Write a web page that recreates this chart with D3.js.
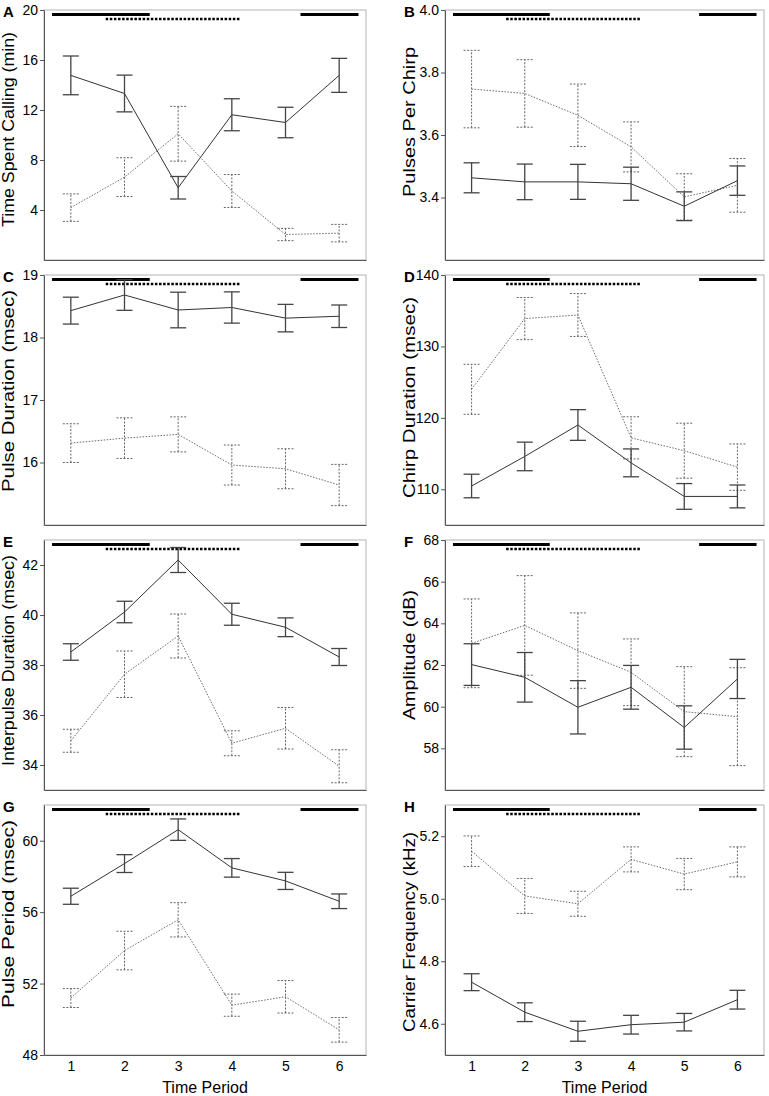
<!DOCTYPE html>
<html><head><meta charset="utf-8">
<script src="https://cdn.jsdelivr.net/npm/d3@7"></script>
<style>body{margin:0;background:#fff}svg{display:block}text{font-family:Arial,"Liberation Sans",sans-serif}</style>
</head><body>
<script>
const periods = [1, 2, 3, 4, 5, 6];
const xTickLabels = ["1", "2", "3", "4", "5", "6"];

// Treatment period bars (in time-period units)
const solidBars = [[0.65, 2.47], [5.28, 6.36]];
const dottedBars = [[1.65, 4.17]];

const panelLetters = ["A", "B", "C", "D", "E", "F", "G", "H"];
const yTitles = ["Time Spent Calling (min)", "Pulses Per Chirp", "Pulse Duration (msec)", "Chirp Duration (msec)",
  "Interpulse Duration (msec)", "Amplitude (dB)", "Pulse Period (msec)", "Carrier Frequency (kHz)"];
const yDomains = [[0, 20], [3.2, 4.0], [15, 19], [105, 140], [33, 43], [56, 68], [48, 62], [4.5, 5.3]];
const yTickValues = [[4, 8, 12, 16, 20], [3.4, 3.6, 3.8, 4.0], [16, 17, 18, 19], [110, 120, 130, 140],
  [34, 36, 38, 40, 42], [58, 60, 62, 64, 66, 68], [48, 52, 56, 60], [4.6, 4.8, 5.0, 5.2]];
const yTickFormats = ["d", ".1f", "d", "d", "d", "d", "d", ".1f"];

// A: Time Spent Calling
const aSolidMean = [14.77, 13.32, 5.78, 11.62, 11.0, 14.77];
const aSolidSE = [1.55, 1.47, 0.9, 1.28, 1.22, 1.36];
const aDottedMean = [4.19, 6.63, 10.1, 5.52, 2.04, 2.15];
const aDottedSE = [1.1, 1.55, 2.19, 1.32, 0.49, 0.7];
// B: Pulses Per Chirp
const bSolidMean = [3.463, 3.450, 3.450, 3.444, 3.372, 3.454];
const bSolidSE = [0.048, 0.057, 0.056, 0.053, 0.046, 0.047];
const bDottedMean = [3.747, 3.733, 3.663, 3.562, 3.402, 3.439];
const bDottedSE = [0.124, 0.108, 0.1, 0.08, 0.074, 0.086];
// C: Pulse Duration
const cSolidMean = [18.43, 18.68, 18.44, 18.48, 18.31, 18.34];
const cSolidSE = [0.215, 0.245, 0.285, 0.25, 0.22, 0.18];
const cDottedMean = [16.31, 16.39, 16.45, 15.96, 15.90, 15.64];
const cDottedSE = [0.31, 0.325, 0.28, 0.32, 0.32, 0.33];
// D: Chirp Duration
const dSolidMean = [110.46, 114.6, 119.0, 113.7, 109.0, 109.0];
const dSolidSE = [1.65, 2.0, 2.15, 1.95, 1.8, 1.6];
const dDottedMean = [124.0, 133.9, 134.4, 117.2, 115.4, 113.1];
const dDottedSE = [3.5, 2.95, 3.0, 2.95, 3.85, 3.25];
// E: Interpulse Duration
const eSolidMean = [38.52, 40.12, 42.2, 40.03, 39.51, 38.32];
const eSolidSE = [0.33, 0.43, 0.5, 0.44, 0.375, 0.34];
const eDottedMean = [34.97, 37.63, 39.16, 34.87, 35.47, 33.95];
const eDottedSE = [0.46, 0.93, 0.88, 0.5, 0.83, 0.66];
// F: Amplitude
const fSolidMean = [62.02, 61.41, 59.97, 60.93, 59.0, 61.33];
const fSolidSE = [1.0, 1.19, 1.28, 1.05, 1.04, 0.94];
const fDottedMean = [63.04, 63.9, 62.69, 61.65, 59.76, 59.52];
const fDottedSE = [2.13, 2.39, 1.81, 1.6, 2.16, 2.35];
// G: Pulse Period
const gSolidMean = [56.89, 58.72, 60.62, 58.48, 57.75, 56.61];
const gSolidSE = [0.45, 0.5, 0.6, 0.52, 0.48, 0.41];
const gDottedMean = [51.19, 53.85, 55.57, 50.79, 51.26, 49.41];
const gDottedSE = [0.53, 1.08, 0.96, 0.62, 0.91, 0.69];
// H: Carrier Frequency
const hSolidMean = [4.733, 4.637, 4.576, 4.597, 4.605, 4.677];
const hSolidSE = [0.027, 0.030, 0.032, 0.030, 0.028, 0.030];
const hDottedMean = [5.152, 5.009, 4.984, 5.126, 5.079, 5.118];
const hDottedSE = [0.049, 0.056, 0.040, 0.040, 0.050, 0.048];

const solidMeans = [aSolidMean, bSolidMean, cSolidMean, dSolidMean, eSolidMean, fSolidMean, gSolidMean, hSolidMean];
const solidSEs = [aSolidSE, bSolidSE, cSolidSE, dSolidSE, eSolidSE, fSolidSE, gSolidSE, hSolidSE];
const dottedMeans = [aDottedMean, bDottedMean, cDottedMean, dDottedMean, eDottedMean, fDottedMean, gDottedMean, hDottedMean];
const dottedSEs = [aDottedSE, bDottedSE, cDottedSE, dDottedSE, eDottedSE, fDottedSE, gDottedSE, hDottedSE];

// ---- layout / style (not data) ----
const W = 769, H = 1096;
const cols = [{x0: 44, x1: 366}, {x0: 445, x1: 764}];
const rowTop = 10, rowPitch = 265, plotH = 250;
const capW = 8;
// vertical extent [top, bottom] in px of each (stretched) y-axis title
const titleSpans = [[32, 227], [47, 197], [290, 492], [297, 498], [555, 766], [590, 720], [820, 1008], [832, 1032]];

const svg = d3.select("body").append("svg").attr("width", W).attr("height", H);

panelLetters.forEach((letter, i) => {
  const col = cols[i % 2];
  const row = Math.floor(i / 2);
  const top = rowTop + row * rowPitch;
  const bottom = top + plotH;
  const x = d3.scaleLinear().domain([0.5, 6.5]).range([col.x0, col.x1]);
  const y = d3.scaleLinear().domain(yDomains[i]).range([bottom, top]);
  const g = svg.append("g");

  // frame
  g.append("rect").attr("x", col.x0).attr("y", top).attr("width", col.x1 - col.x0).attr("height", plotH)
    .attr("fill", "none").attr("stroke", "#b4b4b4").attr("stroke-width", 1);

  // y axis
  const yAxis = d3.axisLeft(y).tickValues(yTickValues[i]).tickFormat(d3.format(yTickFormats[i]))
    .tickSizeInner(4).tickSizeOuter(0).tickPadding(2);
  const ya = g.append("g").attr("transform", `translate(${col.x0},0)`).call(yAxis);
  ya.select(".domain").attr("stroke", "#555");
  ya.selectAll(".tick line").attr("stroke", "#555");
  ya.selectAll(".tick text").attr("font-size", 14).attr("fill", "#000")
    .style("font-family", "Arial, 'Liberation Sans', sans-serif");

  // x axis
  const xAxis = d3.axisBottom(x).tickValues(periods).tickFormat((d, k) => (row === 3 ? xTickLabels[k] : ""))
    .tickSize(0).tickSizeOuter(0).tickPadding(6);
  const xa = g.append("g").attr("transform", `translate(0,${bottom})`).call(xAxis);
  xa.select(".domain").attr("stroke", "#555");
  xa.selectAll(".tick text").attr("font-size", 14).attr("fill", "#000")
    .style("font-family", "Arial, 'Liberation Sans', sans-serif");

  // letter
  g.append("text").attr("x", col.x0 - 41).attr("y", top + 7).attr("font-size", 15).attr("font-weight", "bold")
    .text(letter);

  // y title (stretched along its length like the reference)
  const span = titleSpans[i];
  g.append("text").attr("transform", `translate(${col.x0 - 30},${(span[0] + span[1]) / 2}) rotate(-90)`)
    .attr("text-anchor", "middle").attr("font-size", 16)
    .attr("textLength", span[1] - span[0]).attr("lengthAdjust", "spacingAndGlyphs")
    .text(yTitles[i]);

  if (row === 3) {
    g.append("text").attr("x", (col.x0 + col.x1) / 2).attr("y", bottom + 38).attr("text-anchor", "middle")
      .attr("font-size", 16).text("Time Period");
  }

  // treatment bars
  g.selectAll(".sbar").data(solidBars).join("line")
    .attr("x1", d => x(d[0])).attr("x2", d => x(d[1])).attr("y1", top + 4.5).attr("y2", top + 4.5)
    .attr("stroke", "#000").attr("stroke-width", 3);
  g.selectAll(".dbar").data(dottedBars).join("line")
    .attr("x1", d => x(d[0])).attr("x2", d => x(d[1])).attr("y1", top + 9).attr("y2", top + 9)
    .attr("stroke", "#000").attr("stroke-width", 2.5).attr("stroke-dasharray", "2.5,1.6");

  const line = d3.line().x((d, k) => x(periods[k])).y(d => y(d));

  const series = [
    {m: dottedMeans[i], se: dottedSEs[i], lc: "#6a6a6a", ec: "#666", dash: "1.5,1.5", ew: 1},
    {m: solidMeans[i], se: solidSEs[i], lc: "#333", ec: "#444", dash: null, ew: 1.3}
  ];
  series.forEach(s => {
    g.append("path").datum(s.m).attr("d", line).attr("fill", "none").attr("stroke", s.lc)
      .attr("stroke-width", 1).attr("stroke-dasharray", s.dash);
    const eb = g.append("g");
    periods.forEach((p, k) => {
      const cx = x(p), yl = y(s.m[k] - s.se[k]), yh = y(s.m[k] + s.se[k]);
      [[cx, yl, cx, yh], [cx - capW, yl, cx + capW, yl], [cx - capW, yh, cx + capW, yh]].forEach(c => {
        eb.append("line").attr("x1", c[0]).attr("y1", c[1]).attr("x2", c[2]).attr("y2", c[3])
          .attr("stroke", s.ec).attr("stroke-width", s.ew).attr("stroke-dasharray", s.dash ? "2,1.5" : null);
      });
    });
  });
});
</script>
</body></html>
